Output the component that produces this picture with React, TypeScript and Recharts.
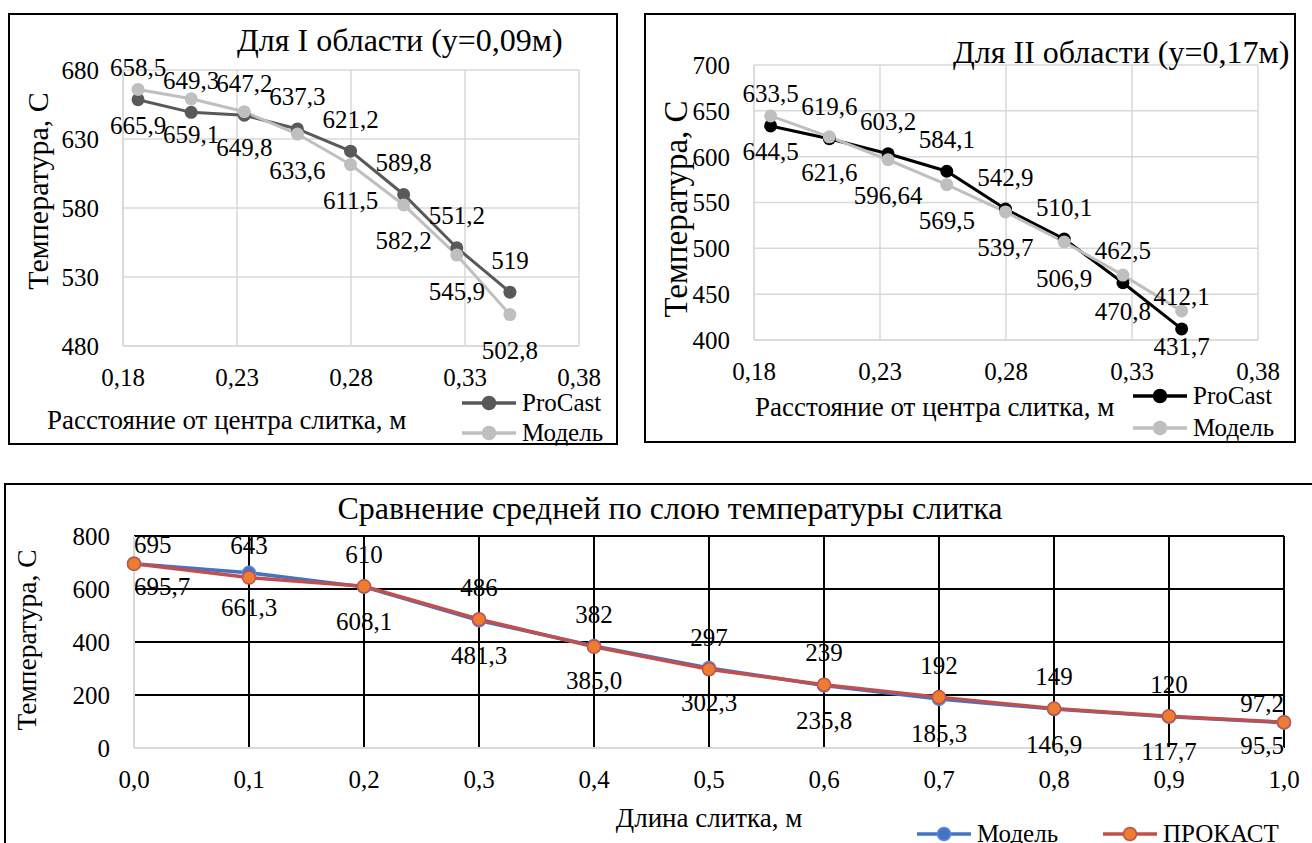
import { LineChart, Line, XAxis, YAxis, CartesianGrid, LabelList } from 'recharts'

const FONT = '"Liberation Serif", "DejaVu Serif", serif'

// --- панель 1: Для I области (y=0,09м)
const radius = [0.1866, 0.2099, 0.2332, 0.2565, 0.2798, 0.3031, 0.3264, 0.3497]
const procast1 = [658.5, 649.3, 647.2, 637.3, 621.2, 589.8, 551.2, 519]
const model1 = [665.9, 659.1, 649.8, 633.6, 611.5, 582.2, 545.9, 502.8]
const yTicks1 = [480, 530, 580, 630, 680]

// --- панель 2: Для II области (y=0,17м)
const procast2 = [633.5, 619.6, 603.2, 584.1, 542.9, 510.1, 462.5, 412.1]
const model2 = [644.5, 621.6, 596.64, 569.5, 539.7, 506.9, 470.8, 431.7]
const yTicks2 = [400, 450, 500, 550, 600, 650, 700]
const xTicks12 = [0.18, 0.23, 0.28, 0.33, 0.38]

// --- панель 3: средняя по слою температура
const length = [0, 0.1, 0.2, 0.3, 0.4, 0.5, 0.6, 0.7, 0.8, 0.9, 1.0]
const model3 = [695.7, 661.3, 608.1, 481.3, 385.0, 302.3, 235.8, 185.3, 146.9, 117.7, 95.5]
const prokast3 = [695, 643, 610, 486, 382, 297, 239, 192, 149, 120, 97.2]
const yTicks3 = [0, 200, 400, 600, 800]
const xTicks3 = [0, 0.1, 0.2, 0.3, 0.4, 0.5, 0.6, 0.7, 0.8, 0.9, 1.0]

const rows1 = radius.map((x, i) => ({ x, procast: procast1[i], model: model1[i] }))
const rows2 = radius.map((x, i) => ({ x, procast: procast2[i], model: model2[i] }))
const rows3 = length.map((x, i) => ({ x, model: model3[i], prokast: prokast3[i] }))

const comma = (v: number) => String(v).replace('.', ',')
const comma1 = (v: number) => v.toFixed(1).replace('.', ',')
const comma2 = (v: number) => v.toFixed(2).replace('.', ',')

const tickStyle = { fontSize: 25, fontFamily: FONT, fill: '#000' }

function makeLabel(offset: number, fmt: (v: number) => string, edge?: { count: number; offset: number }) {
  return (props: any) => {
    const { x, y, value, index } = props
    let anchor: 'middle' | 'start' | 'end' = 'middle'
    let dy = offset
    if (edge && (index === 0 || index === edge.count - 1)) {
      anchor = index === 0 ? 'start' : 'end'
      dy = edge.offset
    }
    return (
      <text x={x} y={y + dy} textAnchor={anchor} dominantBaseline="central" fontSize={25} fontFamily={FONT} fill="#000">
        {fmt(Number(value))}
      </text>
    )
  }
}

function LegendKey({ x, y, name, line, fill, stroke }: any) {
  return (
    <div style={{ position: 'absolute', left: x, top: y - 15, height: 30, display: 'flex', alignItems: 'center', fontFamily: FONT, fontSize: 25, whiteSpace: 'nowrap' }}>
      <svg width={56} height={16} style={{ marginRight: 5 }}>
        <line x1={1} y1={8} x2={55} y2={8} stroke={line} strokeWidth={3.5} />
        <circle cx={28} cy={8} r={6.5} fill={fill} stroke={stroke ?? fill} strokeWidth={1.5} />
      </svg>
      <span>{name}</span>
    </div>
  )
}

function Frame({ width, height }: { width: number; height: number }) {
  return (
    <div
      style={{
        position: 'absolute', left: 0, top: 0, width, height,
        border: '2px solid #000', boxSizing: 'border-box', pointerEvents: 'none',
      }}
    />
  )
}

function Txt({ x, y, size, children, center, vertical }: any) {
  return (
    <div
      style={{
        position: 'absolute', left: x, top: y, fontFamily: FONT, fontSize: size, lineHeight: 1,
        whiteSpace: 'nowrap', color: '#000',
        transform: vertical ? 'translate(-50%, -50%) rotate(-90deg)' : center ? 'translate(-50%, -50%)' : 'translateY(-50%)',
      }}
    >
      {children}
    </div>
  )
}

function RegionChart({ data, yTicks, procColor, title, titleX, titleY, yTitleX, yTitleY, yTitleSize, xTitleX, xTitleY, legendX, legendY, legendGap, width, height, margin }: any) {
  return (
    <>
      <LineChart width={width} height={height} data={data} margin={margin}>
        <CartesianGrid stroke="#D9D9D9" strokeWidth={1.5} />
        <XAxis
          dataKey="x" type="number" domain={[0.18, 0.38]} ticks={xTicks12} tickFormatter={comma2}
          axisLine={{ stroke: '#D9D9D9', strokeWidth: 1.5 }} tickLine={false} tickSize={0} tickMargin={22}
          height={60} tick={tickStyle} interval={0}
        />
        <YAxis
          type="number" domain={[yTicks[0], yTicks[yTicks.length - 1]]} ticks={yTicks}
          axisLine={{ stroke: '#D9D9D9', strokeWidth: 1.5 }} tickLine={false} tickSize={0} tickMargin={24}
          width={100} tick={tickStyle} interval={0}
        />
        <Line dataKey="procast" name="ProCast" stroke={procColor} strokeWidth={3} dot={{ r: 6.5, fill: procColor, stroke: procColor, strokeWidth: 0 }} isAnimationActive={false}>
          <LabelList dataKey="procast" content={makeLabel(-32, comma)} />
        </Line>
        <Line dataKey="model" name="Модель" stroke="#BFBFBF" strokeWidth={3} dot={{ r: 6.5, fill: '#BFBFBF', stroke: '#BFBFBF', strokeWidth: 0 }} isAnimationActive={false}>
          <LabelList dataKey="model" content={makeLabel(36, comma)} />
        </Line>
      </LineChart>
      <Txt x={titleX} y={titleY} size={32}>{title}</Txt>
      <Txt x={yTitleX} y={yTitleY} size={yTitleSize} vertical>Температура, С</Txt>
      <Txt x={xTitleX} y={xTitleY} size={27}>Расстояние от центра слитка, м</Txt>
      <LegendKey x={legendX} y={legendY} name="ProCast" line={procColor} fill={procColor} />
      <LegendKey x={legendX} y={legendY + legendGap} name="Модель" line="#BFBFBF" fill="#BFBFBF" />
      <Frame width={width} height={height} />
    </>
  )
}

export default function App() {
  return (
    <div style={{ position: 'absolute', left: 0, top: 0, width: 1312, height: 843, overflow: 'hidden', background: '#fff' }}>
      {/* панель 1 */}
      <div style={{ position: 'absolute', left: 8, top: 13, width: 610, height: 432 }}>
        <RegionChart
          data={rows1} yTicks={yTicks1} procColor="#595959" title="Для I области (y=0,09м)"
          titleX={229} titleY={27} yTitleX={30} yTitleY={178} yTitleSize={30} xTitleX={39} xTitleY={407}
          legendX={453} legendY={390} legendGap={30} width={610} height={432}
          margin={{ top: 57, right: 39, left: 15, bottom: 39 }}
        />
      </div>

      {/* панель 2 */}
      <div style={{ position: 'absolute', left: 644, top: 13, width: 652, height: 430 }}>
        <RegionChart
          data={rows2} yTicks={yTicks2} procColor="#000000" title="Для II области (y=0,17м)"
          titleX={309} titleY={39} yTitleX={32} yTitleY={196} yTitleSize={33} xTitleX={111} xTitleY={394}
          legendX={488} legendY={383} legendGap={32} width={652} height={430}
          margin={{ top: 52, right: 38, left: 10, bottom: 43 }}
        />
      </div>

      {/* панель 3 */}
      <div style={{ position: 'absolute', left: 4, top: 483, width: 1308, height: 360 }}>
        <LineChart width={1308} height={360} data={rows3} margin={{ top: 53, right: 28, left: 30, bottom: 35 }}>
          <CartesianGrid stroke="#000" strokeWidth={2} />
          <XAxis
            dataKey="x" type="number" domain={[0, 1]} ticks={xTicks3} tickFormatter={comma1}
            axisLine={{ stroke: '#D9D9D9', strokeWidth: 2 }} tickLine={false} tickSize={0} tickMargin={22}
            height={60} tick={tickStyle} interval={0}
          />
          <YAxis
            type="number" domain={[0, 800]} ticks={yTicks3}
            axisLine={{ stroke: '#D9D9D9', strokeWidth: 2 }} tickLine={false} tickSize={0} tickMargin={24}
            width={100} tick={tickStyle} interval={0}
          />
          <Line dataKey="model" name="Модель" stroke="#4472C4" strokeWidth={3.5} dot={{ r: 6.5, fill: '#4472C4', stroke: '#5B8BD6', strokeWidth: 1.5 }} isAnimationActive={false}>
            <LabelList dataKey="model" content={makeLabel(35, comma1, { count: length.length, offset: 23 })} />
          </Line>
          <Line dataKey="prokast" name="ПРОКАСТ" stroke="#C0504D" strokeWidth={3.5} dot={{ r: 6.5, fill: '#ED7D31', stroke: '#C0504D', strokeWidth: 1.5 }} isAnimationActive={false}>
            <LabelList dataKey="prokast" content={makeLabel(-32, comma, { count: length.length, offset: -19 })} />
          </Line>
        </LineChart>
        <Txt x={666} y={25} size={32} center>Сравнение средней по слою температуры слитка</Txt>
        <Txt x={23} y={157} size={27.5} vertical>Температура, С</Txt>
        <Txt x={705} y={335} size={27} center>Длина слитка, м</Txt>
        <LegendKey x={912} y={351} name="Модель" line="#4472C4" fill="#4472C4" stroke="#5B8BD6" />
        <LegendKey x={1098} y={351} name="ПРОКАСТ" line="#C0504D" fill="#ED7D31" stroke="#C0504D" />
        <Frame width={1400} height={500} />
      </div>
    </div>
  )
}
